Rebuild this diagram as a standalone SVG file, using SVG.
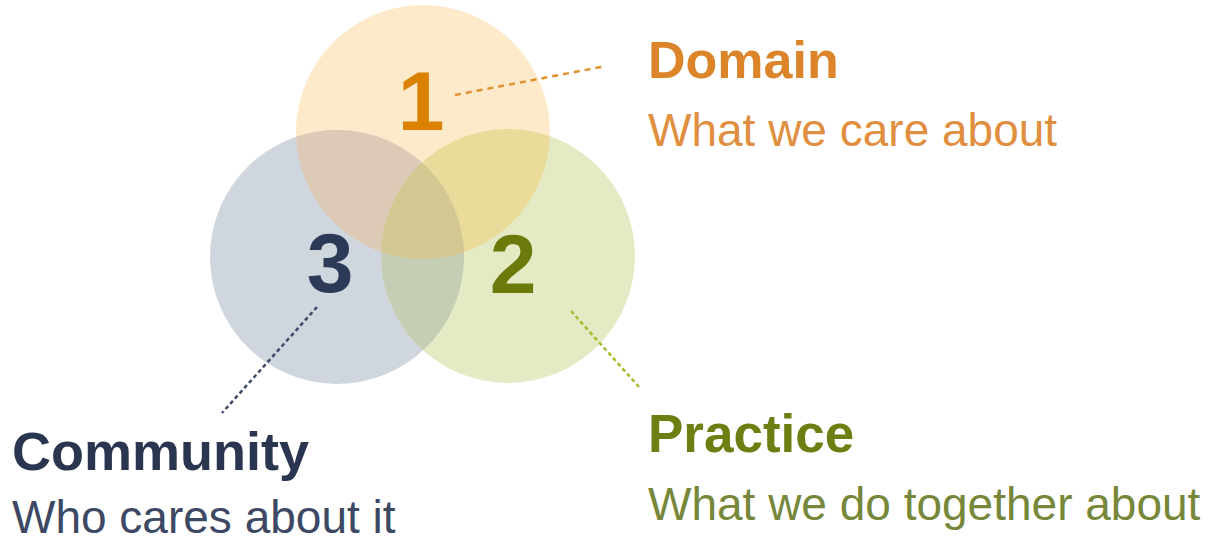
<svg xmlns="http://www.w3.org/2000/svg" width="1208" height="541" viewBox="0 0 1208 541">
<style>
.num{font-family:"Liberation Sans",Arial,sans-serif;font-weight:bold;font-size:84px;text-anchor:middle}
.title{font-family:"Liberation Sans",Arial,sans-serif;font-weight:bold;font-size:52px}
.sub{font-family:"Liberation Sans",Arial,sans-serif;font-size:46px}
.conn{fill:none;stroke-width:2.5}
</style>
<defs>
<clipPath id="cTop"><circle cx="423" cy="132" r="127"/></clipPath>
<clipPath id="cLeft"><circle cx="337" cy="257" r="127"/></clipPath>
<clipPath id="cRight"><circle cx="508" cy="256" r="127"/></clipPath>
</defs>
<rect width="1208" height="541" fill="#ffffff"/>
<g id="circles">
<circle cx="423" cy="132" r="127" fill="#FDEACB"/>
<circle cx="337" cy="257" r="127" fill="#D0D6DE"/>
<circle cx="508" cy="256" r="127" fill="#E4EAC4"/>
<circle cx="423" cy="132" r="127" fill="#DCCAB6" clip-path="url(#cLeft)"/>
<circle cx="423" cy="132" r="127" fill="#EBDB9B" clip-path="url(#cRight)"/>
<circle cx="508" cy="256" r="127" fill="#C5CDB4" clip-path="url(#cLeft)"/>
<g clip-path="url(#cLeft)"><circle cx="423" cy="132" r="127" fill="#D3C892" clip-path="url(#cRight)"/></g>
</g>
<g id="connectors">
<line class="conn" x1="455" y1="95" x2="606" y2="66" stroke="#E0922E" stroke-dasharray="6 5"/>
<line class="conn" x1="317" y1="307" x2="222" y2="413" stroke="#3D4A68" stroke-dasharray="4 3"/>
<line class="conn" x1="571" y1="311" x2="640" y2="388" stroke="#A8BA2A" stroke-dasharray="4 3"/>
</g>
<g id="domain">
<text class="num" x="421" y="130" fill="#DB8100">1</text>
<text class="title" x="648" y="78" fill="#DB842A">Domain</text>
<text class="sub" x="648" y="146" fill="#E08F40">What we care about</text>
</g>
<g id="practice">
<text class="num" x="513" y="293" fill="#6B7A0A">2</text>
<text class="title" x="648" y="452" fill="#6E7E12" style="font-size:53px">Practice</text>
<text class="sub" x="648" y="520" fill="#77873A">What we do together about</text>
</g>
<g id="community">
<text class="num" x="330" y="292" fill="#2D3A57">3</text>
<text class="title" x="12" y="470" fill="#2A3550" style="font-size:54px">Community</text>
<text class="sub" x="12" y="533" fill="#3C4864">Who cares about it</text>
</g>
</svg>
